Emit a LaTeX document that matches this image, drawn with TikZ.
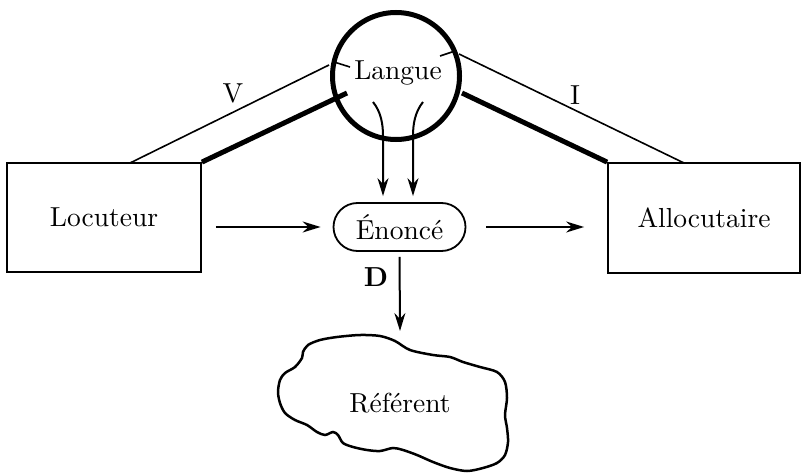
\documentclass[tikz,border=0pt]{standalone}
\usetikzlibrary{arrows.meta,shapes.misc}
\newcommand{\bigtxt}[1]{\scalebox{2.75}{#1}}
\begin{document}
\begin{tikzpicture}[x=1pt,y=-1pt,
  box/.style={draw,line width=1.8pt,inner sep=0pt},
  arr/.style={line width=2pt,-{Stealth[length=18pt,width=11pt]}},
  thinline/.style={line width=1.6pt},
  thickline/.style={line width=5pt},
]
\useasboundingbox (0,0) rectangle (802,473);
% nodes
\node[draw,circle,line width=5pt,minimum size=127pt,inner sep=0pt] (lang) at (396,76) {};
\node (langtxt) at (398,73) {\bigtxt{Langue}};
\node[box,minimum width=194pt,minimum height=109pt] (loc) at (104,217.5) {\bigtxt{Locuteur}};
\node[box,minimum width=192pt,minimum height=110pt] (alloc) at (704,218) {\bigtxt{Allocutaire}};
\node[draw,rounded rectangle,line width=1.8pt,minimum width=134pt,minimum height=48pt,inner sep=1pt] (eno) at (399.5,227) {\bigtxt{Énoncé}};
\node (ref) at (400,403) {\bigtxt{Référent}};
\node (V) at (233,93) {\bigtxt{V}};
\node (I) at (575,95) {\bigtxt{I}};
\node (D) at (376,277) {\bigtxt{\bfseries D}};
\coordinate (reftop) at (400,331);
\coordinate (la) at (383,136);
\coordinate (ra) at (413,136);
% blob
\draw[line width=2.5pt] plot[smooth cycle,tension=0.5] coordinates {
 (303,352) (308,345) (320,340) (337,337) (360,335) (380,336) (395,341) (410,350)
 (433,355) (450,357) (463,362) (480,367) (497,372) (505,382) (507,398) (505,415)
 (507,428) (508,442) (505,455) (497,463) (483,468) (467,471) (450,468) (433,462)
 (417,455) (403,450) (393,448) (380,451) (367,450) (353,447) (343,443) (338,435)
 (333,432) (325,435) (317,432) (307,425) (295,420) (285,413) (280,403) (278,392)
 (280,380) (285,373) (295,367) (302,358)};
% left V lines
\draw[thinline] (130,163) -- (329,65);
\draw[thinline] (334,62) -- (350,67);
\draw[thickline] (loc.north east) -- (347,93);
% right I lines
\draw[thinline] (684,163) -- (459,54);
\draw[thinline] (440,56) -- (455,51);
\draw[thickline] (alloc.north west) -- (462,93);
% arrows
\draw[arr,shorten <=14pt,shorten >=12pt] (loc.east |- eno.west) -- (eno.west);
\draw[arr,shorten <=20pt,shorten >=23pt] (eno.east) -- (alloc.west |- eno.east);
\draw[arr,shorten <=5pt] (eno.south) -- (reftop);
\draw[arr,shorten >=6pt] (373,102) .. controls (381,112) and (383,124) .. (la) -- (la |- eno.north);
\draw[arr,shorten >=6pt] (423,102) .. controls (415,112) and (413,124) .. (ra) -- (ra |- eno.north);
\end{tikzpicture}
\end{document}
